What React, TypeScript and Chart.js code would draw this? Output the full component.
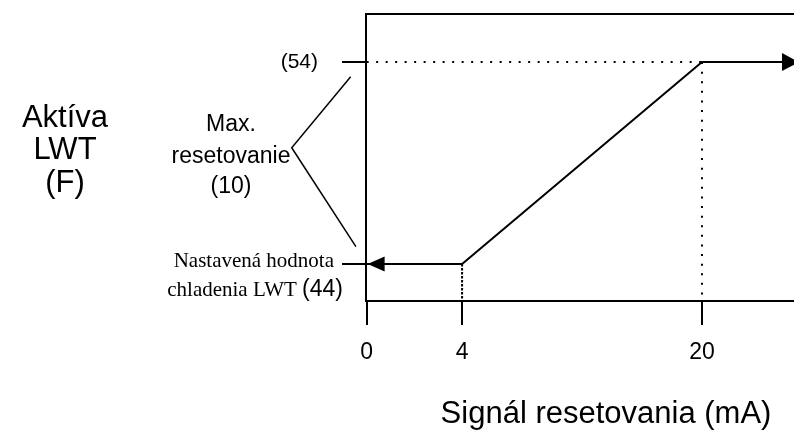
import React, { useEffect, useRef } from 'react';
import { Chart, registerables, LinearScale } from 'chart.js';

// ---------- data ----------
const SIGNAL_MA = [0, 4, 20, 26];
const LWT_F = [44, 44, 54, 54];
const MAX_RESET_LEVEL = [0, 20];
const MAX_RESET_VALUE = [54, 54];
const Y_MIN = 42.17;
const Y_MAX = 56.38;
const X_TICK_VALUES = [0, 4, 20];
const X_TICK_LABELS = ['0', '4', '20'];
const Y_TICK_VALUES = [44, 54];
const Y_TICK_LABELS = ['', '(54)'];
const BRACKET_X = [-0.67, -3.14, -0.45];
const BRACKET_Y = [53.27, 49.76, 44.86];
const SETPOINT_LINES = ['Nastavená hodnota', 'chladenia LWT '];
const SETPOINT_VALUE = '(44)';
const Y_TITLE = ['Aktíva', 'LWT', '(F)'];
const MAX_RESET_LABEL = ['Max.', 'resetovanie', '(10)'];
const X_TITLE = 'Signál resetovania (mA)';

// schematic (non-uniform) x axis: value knots -> fraction of axis width
const X_KNOTS = [0, 4, 20, 26];
const X_KNOT_FRAC = [0.0015, 0.2245, 0.785, 1];

const SANS = "'Liberation Sans', Arial, sans-serif";
const SERIF = "'Liberation Serif', 'Times New Roman', serif";

function valueToFrac(v: number): number {
  const k = X_KNOTS, f = X_KNOT_FRAC;
  let i = 0;
  if (v <= k[0]) i = 0;
  else if (v >= k[k.length - 1]) i = k.length - 2;
  else {
    while (i < k.length - 2 && v > k[i + 1]) i++;
  }
  return f[i] + ((v - k[i]) / (k[i + 1] - k[i])) * (f[i + 1] - f[i]);
}
function fracToValue(t: number): number {
  const k = X_KNOTS, f = X_KNOT_FRAC;
  let i = 0;
  if (t <= f[0]) i = 0;
  else if (t >= f[f.length - 1]) i = f.length - 2;
  else {
    while (i < f.length - 2 && t > f[i + 1]) i++;
  }
  return k[i] + ((t - f[i]) / (f[i + 1] - f[i])) * (k[i + 1] - k[i]);
}

class PiecewiseScale extends LinearScale {
  static id = 'piecewise';
  static defaults = LinearScale.defaults;
  getPixelForValue(value: any) {
    if (value === null || value === undefined || isNaN(value)) return NaN;
    return this.getPixelForDecimal(valueToFrac(+value));
  }
  getValueForPixel(pixel: number) {
    return fracToValue(this.getDecimalForPixel(pixel));
  }
}

Chart.register(...registerables, PiecewiseScale as any);

const pts = (xs: number[], ys: number[]) => xs.map((x, i) => ({ x, y: ys[i] }));

const decorPlugin = {
  id: 'decor',
  afterDatasetsDraw(chart: any) {
    const ctx = chart.ctx;
    const ca = chart.chartArea;
    const yScale = chart.scales.y;
    ctx.save();
    // top border of box
    ctx.strokeStyle = '#000';
    ctx.lineWidth = 2;
    ctx.beginPath();
    ctx.moveTo(ca.left - 1, ca.top);
    ctx.lineTo(ca.right, ca.top);
    ctx.stroke();

    // arrow heads on the main line
    const meta = chart.getDatasetMeta(0);
    const first = meta.data[0];
    const last = meta.data[meta.data.length - 1];
    ctx.fillStyle = '#000';
    ctx.beginPath();
    ctx.moveTo(first.x + 1, first.y);
    ctx.lineTo(first.x + 18, first.y - 7.5);
    ctx.lineTo(first.x + 18, first.y + 7.5);
    ctx.closePath();
    ctx.fill();
    ctx.beginPath();
    ctx.moveTo(last.x + 5, last.y);
    ctx.lineTo(last.x - 12, last.y - 9);
    ctx.lineTo(last.x - 12, last.y + 9);
    ctx.closePath();
    ctx.fill();

    // texts
    ctx.textBaseline = 'middle';
    ctx.fillStyle = '#000';
    ctx.textAlign = 'center';
    ctx.font = `31px ${SANS}`;
    const yTitleY = [118, 150, 183];
    Y_TITLE.forEach((t, i) => ctx.fillText(t, 65, yTitleY[i]));

    ctx.font = `23px ${SANS}`;
    const mrY = [125, 157, 187];
    MAX_RESET_LABEL.forEach((t, i) => ctx.fillText(t, 231, mrY[i]));

    // set point label
    const p44 = yScale.getPixelForValue(44);
    ctx.textAlign = 'right';
    ctx.font = `21px ${SERIF}`;
    ctx.fillText(SETPOINT_LINES[0], 334, p44 - 3);
    ctx.font = `23px ${SANS}`;
    const wVal = ctx.measureText(SETPOINT_VALUE).width;
    ctx.fillText(SETPOINT_VALUE, 343, p44 + 26);
    ctx.font = `21px ${SERIF}`;
    ctx.fillText(SETPOINT_LINES[1], 343 - wVal, p44 + 26);

    // x title
    ctx.textAlign = 'center';
    ctx.font = `31px ${SANS}`;
    ctx.fillText(X_TITLE, 606, 414);
    ctx.restore();
  },
};

export default function App() {
  const ref = useRef<HTMLCanvasElement>(null);
  useEffect(() => {
    if (!ref.current) return;
    const chart = new Chart(ref.current, {
      type: 'line',
      data: {
        datasets: [
          {
            data: pts(SIGNAL_MA, LWT_F),
            borderColor: '#000',
            borderWidth: 2,
            pointRadius: 0,
            tension: 0,
            clip: false as any,
          },
          {
            data: pts(MAX_RESET_LEVEL, MAX_RESET_VALUE),
            borderColor: '#000',
            borderWidth: 2,
            borderDash: [2, 7.5],
            pointRadius: 0,
          },
          {
            data: pts([20, 20], [54, Y_MIN]),
            borderColor: '#000',
            borderWidth: 2,
            borderDash: [2, 7.6],
            pointRadius: 0,
          },
          {
            data: pts([4, 4], [44, Y_MIN]),
            borderColor: '#000',
            borderWidth: 2,
            borderDash: [2.5, 1.5],
            pointRadius: 0,
          },
          {
            data: pts(BRACKET_X, BRACKET_Y),
            borderColor: '#000',
            borderWidth: 1.5,
            pointRadius: 0,
            clip: false as any,
          },
        ],
      },
      options: {
        animation: false,
        responsive: false,
        events: [],
        layout: { padding: { top: 14, left: 0, right: 0, bottom: 0 } },
        plugins: { legend: { display: false }, tooltip: { enabled: false } },
        scales: {
          x: {
            type: 'piecewise' as any,
            min: X_KNOTS[0],
            max: X_KNOTS[X_KNOTS.length - 1],
            afterBuildTicks: (s: any) => {
              s.ticks = X_TICK_VALUES.map((v) => ({ value: v }));
            },
            afterFit: (s: any) => {
              s.height = 129;
              s.paddingLeft = 0;
              s.paddingRight = 0;
            },
            grid: {
              drawOnChartArea: false,
              drawTicks: true,
              tickLength: 24,
              color: '#000',
              lineWidth: 2,
            },
            border: { display: true, color: '#000', width: 2 },
            ticks: {
              autoSkip: false,
              maxRotation: 0,
              padding: 14,
              color: '#000',
              font: { family: SANS, size: 23 },
              callback: (v: any) => {
                const i = X_TICK_VALUES.indexOf(+v);
                return i >= 0 ? X_TICK_LABELS[i] : '';
              },
            },
          } as any,
          y: {
            type: 'linear',
            min: Y_MIN,
            max: Y_MAX,
            afterBuildTicks: (s: any) => {
              s.ticks = Y_TICK_VALUES.map((v) => ({ value: v }));
            },
            afterFit: (s: any) => {
              s.width = 366;
              s.paddingTop = 0;
              s.paddingBottom = 0;
            },
            grid: {
              drawOnChartArea: false,
              drawTicks: true,
              tickLength: 24,
              color: '#000',
              lineWidth: 2,
            },
            border: { display: true, color: '#000', width: 2 },
            ticks: {
              padding: 24,
              color: '#000',
              font: { family: SANS, size: 21 },
              callback: (v: any) => {
                const i = Y_TICK_VALUES.indexOf(+v);
                return i >= 0 ? Y_TICK_LABELS[i] : '';
              },
            },
          } as any,
        },
      },
      plugins: [decorPlugin],
    });
    return () => chart.destroy();
  }, []);
  return (
    <div style={{ position: 'absolute', left: 0, top: 0, width: 794, height: 430, background: '#fff' }}>
      <canvas ref={ref} width={794} height={430} style={{ display: 'block', width: 794, height: 430 }} />
    </div>
  );
}
